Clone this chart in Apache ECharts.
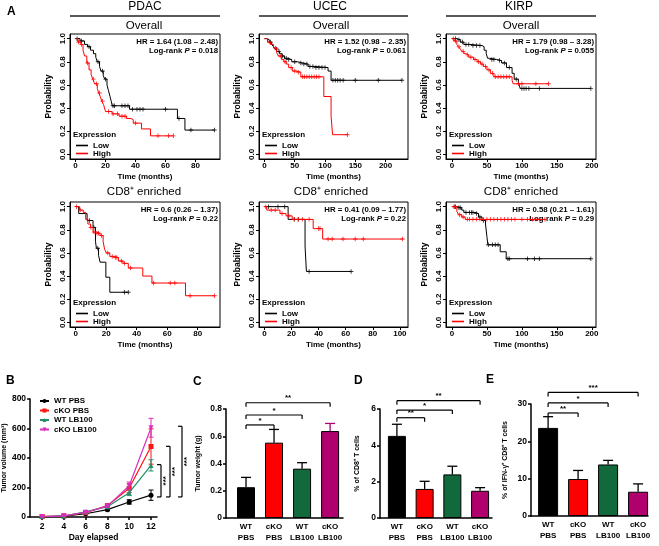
<!DOCTYPE html>
<html><head><meta charset="utf-8">
<script src="https://cdn.jsdelivr.net/npm/echarts@6/dist/echarts.min.js"></script>
<style>html,body{margin:0;padding:0;background:#fff}#c{width:659px;height:546px}</style>
</head><body><div id="c"></div>
<script>
// ---------------- DATA ----------------
const kmCancers = ['PDAC', 'UCEC', 'KIRP'];
const kmRowTitles = ['Overall', 'CD8⁺ enriched'];
const kmYTicks = [0, 0.2, 0.4, 0.6, 0.8, 1.0];
const kmXTicks = [[0,20,40,60,80],[0,50,100,150,200],[0,50,100,150,200],[0,20,40,60,80],[0,20,40,60,80,100],[0,50,100,150,200]];
const kmHR = ['HR = 1.64 (1.08 – 2.48)','HR = 1.52 (0.98 – 2.35)','HR = 1.79 (0.98 – 3.28)','HR = 0.6 (0.26 – 1.37)','HR = 0.41 (0.09 – 1.77)','HR = 0.58 (0.21 – 1.61)'];
const kmP = ['0.018','0.061','0.055','0.22','0.22','0.29'];
const kmGroups = ['Low', 'High'];

// step curves: [time, survival from this time]
const pdacOverallLow = [[0,1],[3,0.98],[6,0.95],[8,0.93],[10,0.9],[12,0.87],[13.5,0.84],[14.5,0.8],[16,0.76],[17,0.72],[18.5,0.68],[19.5,0.65],[21,0.6],[22,0.55],[23,0.5],[23.8,0.46],[24.5,0.42],[36,0.39],[68,0.31],[73,0.21],[92.7,0.21]];
const pdacOverallLowCens = [1,4,9,15,18,20,25,26,31,33,35,38,41,43,45,60,69,77,92.7];
const pdacOverallHigh = [[0,1],[1.5,0.97],[3.5,0.95],[5,0.9],[6,0.85],[7.5,0.79],[9,0.73],[10.4,0.69],[11.5,0.65],[12.7,0.61],[14.5,0.57],[15.5,0.53],[16.5,0.5],[17.5,0.46],[18.7,0.43],[20,0.37],[24.4,0.35],[29,0.33],[34,0.31],[37,0.3],[38.5,0.27],[44,0.22],[50,0.16],[65.3,0.16]];
const pdacOverallHighCens = [2,4,8,12,14,16,18,22,25,28,31,33,40,55,62,65.3];
const ucecOverallLow = [[0,1],[4,0.99],[8,0.97],[12,0.95],[15,0.93],[18,0.91],[21,0.89],[25,0.87],[29,0.85],[33,0.83],[38,0.82],[45,0.8],[55,0.79],[62,0.78],[72,0.76],[83,0.75],[105,0.72],[110,0.64],[227,0.64]];
const ucecOverallLowCens = [10,20,24,30,36,40,50,60,65,70,75,80,85,90,95,100,113,117,121,125,130,150,188,227];
const ucecOverallHigh = [[0,1],[5,0.97],[10,0.95],[15,0.92],[20,0.88],[23,0.85],[28,0.82],[32,0.8],[36,0.78],[40,0.75],[46,0.72],[52,0.71],[60,0.67],[98,0.5],[110,0.33],[112.5,0.17],[137,0.17]];
const ucecOverallHighCens = [8,18,26,34,44,50,56,63,66,70,74,78,82,86,90,137];
const kirpOverallLow = [[0,1],[7,0.99],[12,0.97],[17,0.95],[26,0.94],[43,0.93],[46,0.9],[49,0.87],[51,0.83],[54,0.82],[64,0.81],[71,0.79],[78,0.75],[86,0.7],[89,0.65],[95,0.62],[97.6,0.57],[198.6,0.57]];
const kirpOverallLowCens = [5,10,15,20,24,30,35,40,57,60,68,75,82,92,100,103,106,110,125,198.6];
const kirpOverallHigh = [[0,1],[3,0.98],[7,0.95],[9.5,0.93],[12,0.91],[14,0.89],[17,0.87],[20,0.86],[24,0.84],[31,0.82],[36,0.8],[41,0.78],[45,0.76],[50,0.73],[55,0.7],[60,0.67],[86,0.64],[87.5,0.61],[138,0.61]];
const kirpOverallHighCens = [2,5,10,16,22,27,33,38,43,48,53,58,62,66,70,74,78,82,95,100,120,138];
const pdacCd8Low = [[0,1],[2,0.94],[7.5,0.88],[11.4,0.82],[13,0.7],[13.6,0.64],[15,0.58],[16,0.52],[19.8,0.39],[22.4,0.26],[34.5,0.26]];
const pdacCd8LowCens = [9,12,14.5,32,34.5];
const pdacCd8High = [[0,1],[2.6,0.97],[5,0.95],[6.6,0.89],[8,0.85],[9.7,0.82],[11.4,0.78],[13.6,0.77],[16,0.75],[18,0.7],[19,0.63],[20.2,0.6],[22.4,0.57],[25.7,0.56],[28,0.53],[31,0.51],[34.5,0.47],[44,0.4],[50,0.34],[72,0.23],[91,0.23]];
const pdacCd8HighCens = [0.5,3,10,12,14,15,17,21,24,26,27,30,32,36,51,62,65,75,91];
const ucecCd8Low = [[0,1],[17.5,0.89],[30,0.66],[31,0.44],[64,0.44]];
const ucecCd8LowCens = [3,10,15,22,25,33,64];
const ucecCd8High = [[0,1],[1.7,0.97],[11.5,0.94],[16,0.92],[20.5,0.89],[36,0.81],[43,0.72],[102,0.72]];
const ucecCd8HighCens = [1,5,8,13,18,22,25,28,33,40,41,47,50,58,67,73,102];
const kirpCd8Low = [[0,1],[7,0.99],[14,0.97],[17,0.95],[33,0.94],[38,0.91],[43,0.88],[48,0.85],[50,0.74],[51.4,0.67],[69,0.61],[77.6,0.55],[198.6,0.55]];
const kirpCd8LowCens = [3,5,10,12,20,25,28,30,35,40,45,52,58,62,66,80,82,108,118,125,198.6];
const kirpCd8High = [[0,1],[7,0.96],[9.5,0.93],[14,0.91],[19,0.89],[133,0.89]];
const kirpCd8HighCens = [4,11,16,22,25,30,35,40,45,50,55,60,65,70,75,80,85,90,100,108,115,120,125,133];

// Panel B
const bDays = [2, 4, 6, 8, 10, 12];
const bGroups = ['WT PBS', 'cKO PBS', 'WT LB100', 'cKO LB100'];
const wtPbsVol = [2, 5, 22, 50, 102, 148];
const wtPbsErr = [1, 2, 4, 7, 15, 35];
const koPbsVol = [3, 8, 30, 77, 195, 478];
const koPbsErr = [1, 2, 6, 10, 30, 120];
const wtLbVol = [3, 7, 35, 70, 165, 350];
const wtLbErr = [1, 2, 6, 10, 20, 38];
const koLbVol = [3, 8, 32, 74, 212, 605];
const koLbErr = [1, 2, 6, 10, 25, 64];
const bYTicks = [0, 200, 400, 600, 800];
const bBrackets = [[136, 355], [136, 479], [136, 615]];
const bBracketLabels = ['***', '***', '***'];

// Panels C, D, E
const barCats = ['WT\nPBS', 'cKO\nPBS', 'WT\nLB100', 'cKO\nLB100'];
const weightMean = [0.226, 0.553, 0.362, 0.638];
const weightErr = [0.072, 0.097, 0.044, 0.056];
const weightSig = [[0, 1, 0.683], [0, 2, 0.756], [0, 3, 0.846]];
const weightSigLabels = ['*', '*', '**'];
const cd8Mean = [4.52, 1.6, 2.4, 1.5];
const cd8Err = [0.64, 0.42, 0.45, 0.17];
const cd8Sig = [[0, 1, 5.52], [0, 2, 5.94], [0, 3, 6.46]];
const cd8SigLabels = ['**', '*', '**'];
const ifnMean = [23.6, 9.9, 13.8, 6.5];
const ifnErr = [3.0, 2.3, 1.1, 2.1];
const ifnSig = [[0, 1, 27.6], [0, 2, 30.3], [0, 3, 33.1]];
const ifnSigLabels = ['**', '*', '***'];

// ---------------- BUILD ----------------
const FONT = '"Liberation Sans", Arial, Helvetica, sans-serif';
const kmSteps = [
  [pdacOverallLow, pdacOverallHigh], [ucecOverallLow, ucecOverallHigh], [kirpOverallLow, kirpOverallHigh],
  [pdacCd8Low, pdacCd8High], [ucecCd8Low, ucecCd8High], [kirpCd8Low, kirpCd8High]];
const kmCens = [
  [pdacOverallLowCens, pdacOverallHighCens], [ucecOverallLowCens, ucecOverallHighCens], [kirpOverallLowCens, kirpOverallHighCens],
  [pdacCd8LowCens, pdacCd8HighCens], [ucecCd8LowCens, ucecCd8HighCens], [kirpCd8LowCens, kirpCd8HighCens]];
const kmColors = ['#000000', '#ff0000'];
const colLeft = [70, 259, 446], colW = [150, 149, 150];
const rowTop = [34, 202], rowH = 125;
const kmXRange = [[-3.7, 96.4], [-9, 237], [-8.5, 206], [-3.7, 94.6], [-4, 106], [-8.5, 206]];

function stepAt(steps, t) { let v = steps[0][1]; for (const s of steps) { if (s[0] <= t) v = s[1]; } return v; }
const plusPath = 'path://M4,0H6V4H10V6H6V10H4V6H0V4H4Z';
const invTri = 'path://M0,0L10,0L5,9Z';

const grids = [], xAxes = [], yAxes = [], series = [], legends = [], gfx = [];
const boldTxt = (extra) => Object.assign({ fontFamily: FONT, fontWeight: 'bold', color: '#000' }, extra || {});

function txt(x, y, text, size, weight, align, extra) {
  gfx.push({ type: 'text', x: x, y: y, silent: true,
    style: Object.assign({ text: text, fontSize: size, fontWeight: weight, fontFamily: FONT, fill: '#000',
      align: align, textAlign: align, verticalAlign: 'middle', textVerticalAlign: 'middle' }, extra || {}) });
}

for (let k = 0; k < 6; k++) {
  const r = Math.floor(k / 3), c = k % 3;
  const left = colLeft[c], top = rowTop[r], w = colW[c];
  grids.push({ left: left, top: top, width: w, height: rowH, show: true, borderColor: '#000', borderWidth: 1, backgroundColor: 'transparent' });
  xAxes.push({ type: 'value', gridIndex: k, min: kmXRange[k][0], max: kmXRange[k][1],
    axisLine: { show: true, onZero: false, lineStyle: { color: '#000', width: 1 } },
    axisTick: { show: true, length: 3, customValues: kmXTicks[k], lineStyle: { color: '#000' } },
    axisLabel: { customValues: kmXTicks[k], margin: 3, fontSize: 8, fontWeight: 'bold', color: '#000', fontFamily: FONT },
    splitLine: { show: false },
    name: 'Time (months)', nameLocation: 'middle', nameGap: 14, nameTextStyle: boldTxt({ fontSize: 8 }) });
  yAxes.push({ type: 'value', gridIndex: k, min: -0.04, max: 1.04,
    axisLine: { show: true, onZero: false, lineStyle: { color: '#000', width: 1 } },
    axisTick: { show: true, length: 3, customValues: kmYTicks, lineStyle: { color: '#000' } },
    axisLabel: { customValues: kmYTicks, rotate: 90, margin: 3, fontSize: 8, fontWeight: 'bold', color: '#000', fontFamily: FONT,
      formatter: v => v.toFixed(1) },
    splitLine: { show: false },
    name: 'Probability', nameLocation: 'middle', nameGap: 17, nameRotate: 90, nameTextStyle: boldTxt({ fontSize: 8.5 }) });
  for (let g = 0; g < 2; g++) {
    const steps = kmSteps[k][g];
    series.push({ type: 'line', name: kmGroups[g], xAxisIndex: k, yAxisIndex: k, step: 'end', data: steps,
      showSymbol: false, symbol: 'none', color: kmColors[g], lineStyle: { color: kmColors[g], width: 1 }, silent: true, z: 3 + g });
    series.push({ type: 'scatter', name: kmGroups[g] + ' censored', xAxisIndex: k, yAxisIndex: k,
      data: kmCens[k][g].map(t => [t, stepAt(steps, t)]), symbol: plusPath, symbolSize: 4.5,
      itemStyle: { color: kmColors[g] }, silent: true, z: 3 + g });
  }
  legends.push({ data: kmGroups, orient: 'vertical', left: left + 6, top: top + 107.5, padding: 0, itemGap: 0,
    icon: 'rect', itemWidth: 12, itemHeight: 1.6, selectedMode: false,
    textStyle: boldTxt({ fontSize: 8, lineHeight: 7 }) });
  txt(left + 3, top + 101, 'Expression', 8, 'bold', 'left');
  // HR text
  txt(left + w - 2, top + 8, kmHR[k], 7.8, 'bold', 'right');
  gfx.push({ type: 'text', x: left + w - 2, y: top + 17, silent: true,
    style: { text: '{n|Log-rank }{i|P}{n| = ' + kmP[k] + '}', align: 'right', textAlign: 'right', verticalAlign: 'middle', textVerticalAlign: 'middle',
      rich: { n: { fontSize: 7.8, fontWeight: 'bold', fontFamily: FONT, fill: '#000', color: '#000' },
              i: { fontSize: 7.8, fontWeight: 'bold', fontStyle: 'italic', fontFamily: FONT, fill: '#000', color: '#000' } } } });
  // row title
  const cx = [144, 331, 521][c];
  txt(cx, [26, 192][r], kmRowTitles[r], 11.5, 'normal', 'center');
}
// column headers
for (let c = 0; c < 3; c++) {
  txt([145, 330, 519][c], 7, kmCancers[c], 12, 'normal', 'center');
  gfx.push({ type: 'line', silent: true, shape: { x1: colLeft[c], y1: 16, x2: colLeft[c] + colW[c], y2: 16 }, style: { stroke: '#222', lineWidth: 1.3 } });
}

// ---------- Panel B ----------
const gB = grids.length;
grids.push({ left: 30, top: 399, width: 127, height: 118 });
const prismAxisLine = { show: true, onZero: false, lineStyle: { color: '#000', width: 1.5 } };
const prismTick = { show: true, length: 3, lineStyle: { color: '#000', width: 1.5 } };
xAxes.push({ type: 'value', gridIndex: gB, min: 0.9, max: 12.55, axisLine: prismAxisLine,
  axisTick: Object.assign({ customValues: bDays }, prismTick),
  axisLabel: { customValues: bDays, margin: 5, fontSize: 8.5, fontWeight: 'bold', color: '#000', fontFamily: FONT },
  splitLine: { show: false }, name: 'Day elapsed', nameLocation: 'middle', nameGap: 16, nameTextStyle: boldTxt({ fontSize: 8.5 }) });
yAxes.push({ type: 'value', gridIndex: gB, min: 0, max: 800, interval: 200, axisLine: prismAxisLine, axisTick: prismTick,
  axisLabel: { margin: 4, fontSize: 8.5, fontWeight: 'bold', color: '#000', fontFamily: FONT },
  splitLine: { show: false }, name: 'Tumor volume (mm³)', nameLocation: 'middle', nameGap: 20, nameRotate: 90, nameTextStyle: boldTxt({ fontSize: 7 }) });
const bColors = ['#000000', '#ff1414', '#24906a', '#d62fbf'];
const bSymbols = ['circle', 'rect', 'triangle', invTri];
const bMeans = [wtPbsVol, koPbsVol, wtLbVol, koLbVol];
const bErrs = [wtPbsErr, koPbsErr, wtLbErr, koLbErr];
for (let g = 0; g < 4; g++) {
  const col = bColors[g];
  series.push({ type: 'line', name: bGroups[g], xAxisIndex: gB, yAxisIndex: gB, data: bDays.map((d, i) => [d, bMeans[g][i]]),
    symbol: bSymbols[g], symbolSize: 5, showSymbol: true, color: col, itemStyle: { color: col }, lineStyle: { color: col, width: 1.2 }, silent: true, z: 3 + g });
  series.push({ type: 'custom', name: bGroups[g] + ' err', xAxisIndex: gB, yAxisIndex: gB, silent: true, z: 3 + g,
    data: bDays.map((d, i) => [d, bMeans[g][i], bErrs[g][i]]),
    renderItem: function (params, api) {
      const x = api.value(0), v = api.value(1), e = api.value(2);
      const t = api.coord([x, v + e]), b = api.coord([x, Math.max(0, v - e)]);
      const st = { stroke: col, lineWidth: 1 };
      return { type: 'group', children: [
        { type: 'line', shape: { x1: t[0], y1: t[1], x2: b[0], y2: b[1] }, style: st },
        { type: 'line', shape: { x1: t[0] - 2.5, y1: t[1], x2: t[0] + 2.5, y2: t[1] }, style: st },
        { type: 'line', shape: { x1: b[0] - 2.5, y1: b[1], x2: b[0] + 2.5, y2: b[1] }, style: st }] };
    } });
}
legends.push({ data: bGroups, orient: 'vertical', left: 39, top: 397, padding: 0, itemGap: 1.5, itemWidth: 9, itemHeight: 5, selectedMode: false,
  textStyle: boldTxt({ fontSize: 8, lineHeight: 8 }) });
const bBrOffsets = [4, 13, 25];
series.push({ type: 'custom', xAxisIndex: gB, yAxisIndex: gB, silent: true, clip: false,
  data: bBrackets.map(b => [12, b[0], b[1]]),
  renderItem: function (params, api) {
    const i = params.dataIndex;
    const p1 = api.coord([12, api.value(1)]), p2 = api.coord([12, api.value(2)]);
    const xr = params.coordSys.x + params.coordSys.width + bBrOffsets[i];
    const st = { stroke: '#000', lineWidth: 1.2 };
    return { type: 'group', children: [
      { type: 'line', shape: { x1: xr, y1: p1[1], x2: xr, y2: p2[1] }, style: st },
      { type: 'line', shape: { x1: xr - 4, y1: p1[1], x2: xr, y2: p1[1] }, style: st },
      { type: 'line', shape: { x1: xr - 4, y1: p2[1], x2: xr, y2: p2[1] }, style: st },
      { type: 'text', x: xr + 4.5, y: (p1[1] + p2[1]) / 2, rotation: Math.PI / 2,
        style: { text: bBracketLabels[i], fontSize: 8, fontWeight: 'bold', fontFamily: FONT, fill: '#000',
          align: 'center', textAlign: 'center', verticalAlign: 'middle', textVerticalAlign: 'middle' } }] };
  } });

// ---------- Bar panels ----------
const barColors = ['#000000', '#ff0000', '#126a3c', '#b0006e'];
function barPanel(cfg) {
  const gi = grids.length;
  grids.push({ left: cfg.left, top: cfg.top, width: cfg.width, height: cfg.height });
  xAxes.push({ type: 'value', gridIndex: gi, min: cfg.xmin, max: cfg.xmax, axisLine: prismAxisLine,
    axisTick: { show: false },
    axisLabel: { customValues: [0, 1, 2, 3], formatter: v => barCats[Math.round(v)], margin: 4, fontSize: 8, lineHeight: 10.5,
      fontWeight: 'bold', color: '#000', fontFamily: FONT },
    splitLine: { show: false } });
  yAxes.push({ type: 'value', gridIndex: gi, min: 0, max: cfg.ymax, interval: cfg.interval, axisLine: prismAxisLine, axisTick: prismTick,
    axisLabel: { margin: 4, fontSize: 8.5, fontWeight: 'bold', color: '#000', fontFamily: FONT, formatter: cfg.fmt },
    splitLine: { show: false }, name: cfg.yname, nameLocation: 'middle', nameGap: cfg.nameGap, nameRotate: 90,
    nameTextStyle: boldTxt({ fontSize: 7 }) });
  series.push({ type: 'bar', xAxisIndex: gi, yAxisIndex: gi, barWidth: cfg.barWidth, silent: true,
    data: cfg.mean.map((v, i) => [i, v]),
    itemStyle: { color: p => barColors[p.dataIndex], borderColor: '#000', borderWidth: 1 } });
  series.push({ type: 'custom', xAxisIndex: gi, yAxisIndex: gi, silent: true, clip: false, z: 1,
    data: cfg.mean.map((v, i) => [i, v, cfg.err[i]]),
    renderItem: function (params, api) {
      const x = api.value(0), v = api.value(1), e = api.value(2);
      const b = api.coord([x, v]), t = api.coord([x, v + e]);
      const st = { stroke: cfg.errColors[params.dataIndex], lineWidth: 1.3 };
      return { type: 'group', children: [
        { type: 'line', shape: { x1: b[0], y1: b[1], x2: t[0], y2: t[1] }, style: st },
        { type: 'line', shape: { x1: t[0] - 5, y1: t[1], x2: t[0] + 5, y2: t[1] }, style: st }] };
    } });
  series.push({ type: 'custom', xAxisIndex: gi, yAxisIndex: gi, silent: true, clip: false,
    data: cfg.sig,
    renderItem: function (params, api) {
      const a = api.coord([api.value(0), api.value(2)]), b = api.coord([api.value(1), api.value(2)]);
      const st = { stroke: '#000', lineWidth: 1.2 };
      return { type: 'group', children: [
        { type: 'line', shape: { x1: a[0], y1: a[1], x2: b[0], y2: b[1] }, style: st },
        { type: 'line', shape: { x1: a[0], y1: a[1], x2: a[0], y2: a[1] + 4 }, style: st },
        { type: 'line', shape: { x1: b[0], y1: b[1], x2: b[0], y2: b[1] + 4 }, style: st },
        { type: 'text', x: (a[0] + b[0]) / 2, y: a[1] - 0.5,
          style: { text: cfg.sigLabels[params.dataIndex], fontSize: 8, fontWeight: 'bold', fontFamily: FONT, fill: '#000',
            align: 'center', textAlign: 'center', verticalAlign: 'bottom', textVerticalAlign: 'bottom' } }] };
    } });
}
barPanel({ left: 226, top: 409, width: 117, height: 109, xmin: -0.714, xmax: 3.46, ymax: 0.8, interval: 0.2,
  fmt: v => (v === 0 ? '0' : v.toFixed(1)), yname: 'Tumor weight (g)', nameGap: 24, barWidth: 18,
  mean: weightMean, err: weightErr, errColors: ['#000', '#000', '#000', '#b0006e'], sig: weightSig, sigLabels: weightSigLabels });
barPanel({ left: 380, top: 409, width: 112, height: 109, xmin: -0.61, xmax: 3.43, ymax: 6, interval: 2,
  fmt: v => String(v), yname: '% of CD8⁺ T cells', nameGap: 19, barWidth: 18,
  mean: cd8Mean, err: cd8Err, errColors: ['#000', '#000', '#000', '#000'], sig: cd8Sig, sigLabels: cd8SigLabels });
barPanel({ left: 531, top: 404, width: 117, height: 112, xmin: -0.57, xmax: 3.33, ymax: 30, interval: 10,
  fmt: v => String(v), yname: '% of IFN-γ⁺ CD8⁺ T cells', nameGap: 22, barWidth: 20,
  mean: ifnMean, err: ifnErr, errColors: ['#000', '#000', '#000', '#000'], sig: ifnSig, sigLabels: ifnSigLabels });

// panel letters
txt(7, 12, 'A', 12, 'bold', 'left');
txt(6, 381, 'B', 12, 'bold', 'left');
txt(193, 382, 'C', 12, 'bold', 'left');
txt(354, 381, 'D', 12, 'bold', 'left');
txt(486, 380, 'E', 12, 'bold', 'left');

const chart = echarts.init(document.getElementById('c'), null, { renderer: 'canvas' });
chart.setOption({
  animation: false,
  backgroundColor: '#fff',
  textStyle: { fontFamily: FONT },
  grid: grids, xAxis: xAxes, yAxis: yAxes, series: series, legend: legends,
  graphic: { elements: gfx }
});
</script></body></html>
